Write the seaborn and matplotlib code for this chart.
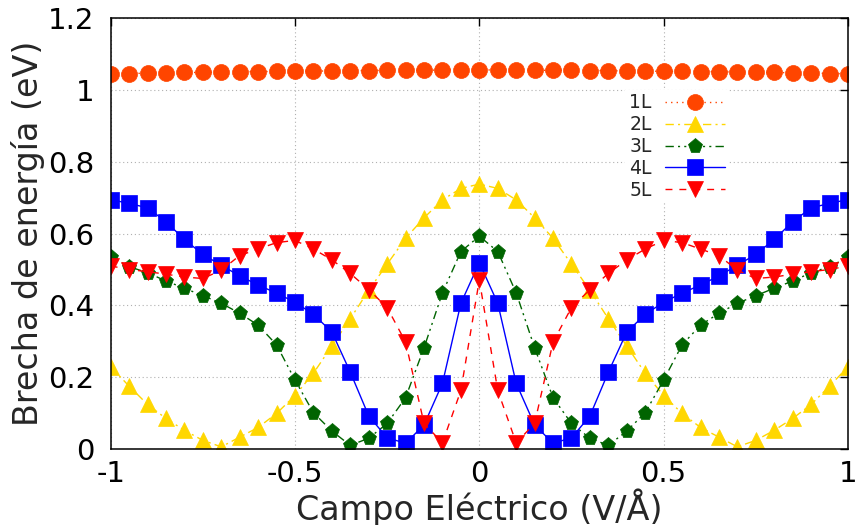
import numpy as np
import pandas as pd
import matplotlib
matplotlib.use("Agg")
import matplotlib.pyplot as plt
import seaborn as sns

# Electric field grid (V/Å)
campo = np.round(np.linspace(-1.0, 1.0, 41), 2)

# Band gap (eV) per number of layers
gap_1L = [1.045, 1.046, 1.047, 1.048, 1.049, 1.049, 1.050, 1.051, 1.051, 1.052,
          1.052, 1.053, 1.053, 1.054, 1.054, 1.055, 1.055, 1.055, 1.056, 1.056,
          1.056,
          1.056, 1.056, 1.055, 1.055, 1.055, 1.054, 1.054, 1.053, 1.053, 1.052,
          1.052, 1.051, 1.051, 1.050, 1.049, 1.049, 1.048, 1.047, 1.046, 1.045]
gap_2L = [0.229, 0.175, 0.124, 0.085, 0.052, 0.024, 0.006, 0.033, 0.060, 0.099,
          0.149, 0.211, 0.287, 0.363, 0.442, 0.515, 0.587, 0.644, 0.694, 0.726,
          0.738,
          0.726, 0.694, 0.644, 0.587, 0.515, 0.442, 0.363, 0.287, 0.211, 0.149,
          0.099, 0.060, 0.033, 0.006, 0.024, 0.052, 0.085, 0.124, 0.175, 0.229]
gap_3L = [0.534, 0.508, 0.491, 0.468, 0.448, 0.427, 0.406, 0.378, 0.345, 0.290,
          0.192, 0.101, 0.050, 0.010, 0.030, 0.071, 0.143, 0.282, 0.435, 0.550,
          0.593,
          0.550, 0.435, 0.282, 0.143, 0.071, 0.030, 0.010, 0.050, 0.101, 0.192,
          0.290, 0.345, 0.378, 0.406, 0.427, 0.448, 0.468, 0.491, 0.508, 0.534]
gap_4L = [0.695, 0.684, 0.672, 0.633, 0.584, 0.542, 0.512, 0.482, 0.457, 0.434,
          0.409, 0.375, 0.326, 0.214, 0.092, 0.031, 0.016, 0.067, 0.183, 0.406,
          0.519,
          0.406, 0.183, 0.067, 0.016, 0.031, 0.092, 0.214, 0.326, 0.375, 0.409,
          0.434, 0.457, 0.482, 0.512, 0.542, 0.584, 0.633, 0.672, 0.684, 0.695]
gap_5L = [0.510, 0.500, 0.494, 0.487, 0.479, 0.475, 0.498, 0.539, 0.557, 0.575,
          0.581, 0.557, 0.527, 0.489, 0.444, 0.394, 0.298, 0.071, 0.017, 0.163,
          0.471,
          0.163, 0.017, 0.071, 0.298, 0.394, 0.444, 0.489, 0.527, 0.557, 0.581,
          0.575, 0.557, 0.539, 0.498, 0.475, 0.479, 0.487, 0.494, 0.500, 0.510]

series_names = ["1L", "2L", "3L", "4L", "5L"]
x_ticks = [-1, -0.5, 0, 0.5, 1]
x_ticklabels = ["-1", "-0.5", "0", "0.5", "1"]
y_ticks = [0, 0.2, 0.4, 0.6, 0.8, 1.0, 1.2]
y_ticklabels = ["0", "0.2", "0.4", "0.6", "0.8", "1", "1.2"]

df = pd.DataFrame({"campo": campo, "1L": gap_1L, "2L": gap_2L,
                   "3L": gap_3L, "4L": gap_4L, "5L": gap_5L})

styles = {
    "1L": dict(color="#ff4500", marker="o", markersize=11.5, linestyle=(0, (1, 3))),
    "2L": dict(color="#ffd700", marker="^", markersize=11, linestyle=(0, (6, 3, 1.5, 3))),
    "3L": dict(color="#006400", marker="p", markersize=11, linestyle=(0, (6, 3, 1.5, 3, 1.5, 3))),
    "4L": dict(color="#0000ff", marker="s", markersize=11, linestyle="-"),
    "5L": dict(color="#ff0000", marker="v", markersize=11, linestyle=(0, (5, 5))),
}

sns.set_theme(style="white")
plt.rcParams["font.family"] = ["DejaVu Sans"]

fig = plt.figure(figsize=(8.58, 5.25), dpi=100)
ax = fig.add_axes([0.1290, 0.1448, 0.8593, 0.8204])

for name in series_names:
    st = styles[name]
    sns.lineplot(data=df, x="campo", y=name, ax=ax, label=name,
                 color=st["color"], marker=st["marker"], markersize=st["markersize"],
                 linestyle=st["linestyle"], linewidth=1.0,
                 markeredgecolor=st["color"], markeredgewidth=0.5,
                 errorbar=None, estimator=None, sort=False)

ax.set_xlim(-1, 1)
ax.set_ylim(0, 1.2)
ax.set_xticks(x_ticks)
ax.set_xticklabels(x_ticklabels)
ax.set_yticks(y_ticks)
ax.set_yticklabels(y_ticklabels)

ax.grid(True, color="#b0b0b0", linestyle=(0, (1, 2.5)), linewidth=0.8)
ax.set_axisbelow(True)

for sp in ax.spines.values():
    sp.set_color("black")
    sp.set_linewidth(1.1)

ax.tick_params(axis="both", direction="in", length=6, width=1.0, color="black",
               top=True, right=True, labelsize=21, labelcolor="black")
ax.tick_params(axis="y", pad=12)
ax.tick_params(axis="x", pad=8)

ax.set_xlabel("Campo Eléctrico (V/Å)", fontsize=24, labelpad=0)
ax.set_ylabel("Brecha de energía (eV)", fontsize=24, labelpad=2)

ax.legend(loc="center", bbox_to_anchor=(0.768, 0.702), markerfirst=False,
          frameon=True, fontsize=13.5, handlelength=3.2, handletextpad=0.7,
          labelspacing=0.15, borderpad=0.2, facecolor="white", edgecolor="none",
          framealpha=1, fancybox=False)

fig.savefig("out.png", dpi=100)
